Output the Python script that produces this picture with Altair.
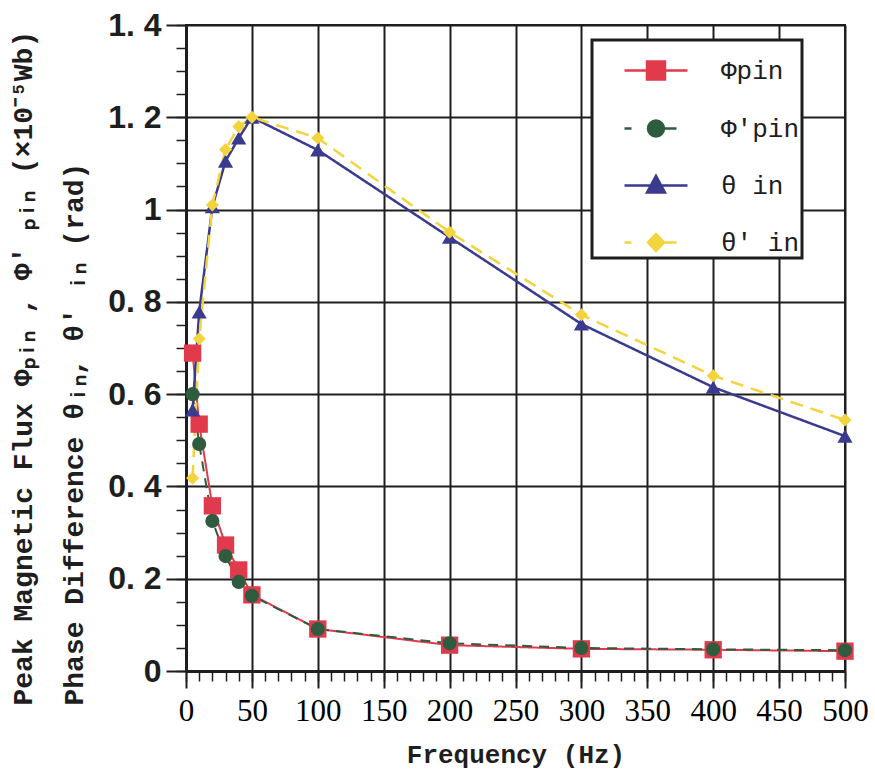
import altair as alt
import pandas as pd

# ---- data ----
freq = [5, 10, 20, 30, 40, 50, 100, 200, 300, 400, 500]
phi_pin = [0.689, 0.535, 0.358, 0.273, 0.219, 0.165, 0.091, 0.056, 0.048, 0.046, 0.043]
phi_p_pin = [0.600, 0.492, 0.325, 0.249, 0.193, 0.163, 0.091, 0.060, 0.050, 0.047, 0.045]
theta_in = [0.566, 0.778, 1.006, 1.105, 1.155, 1.200, 1.129, 0.940, 0.752, 0.615, 0.509]
theta_p_in = [0.418, 0.720, 1.010, 1.130, 1.180, 1.200, 1.155, 0.951, 0.772, 0.640, 0.544]

series_names = ["Φpin", "Φ'pin", "θ in", "θ' in"]
series_values = [phi_pin, phi_p_pin, theta_in, theta_p_in]
colors = ["#e03a4c", "#2f5c3e", "#3a3a8e", "#f3d43c"]
dashes = [[1, 0], [10, 7], [1, 0], [13, 8]]
stroke_widths = [2, 2, 2.5, 2.5]
marker_shapes = ["square", "circle", "triangle-up", "diamond"]
marker_sizes = [300, 200, 230, 170]

x_major = [0, 50, 100, 150, 200, 250, 300, 350, 400, 450, 500]
x_minor = list(range(0, 501, 10))
y_major = [0, 0.2, 0.4, 0.6, 0.8, 1.0, 1.2, 1.4]
y_minor = [round(i * 0.05, 2) for i in range(29)]

# legend symbols: line segment + marker (unit = half of the symbol box)
legend_paths = [
    "M0.074,0H2.407M0.907,-0.333H1.573V0.333H0.907Z",
    "M0.074,0H0.333M0.963,0H2.0M1.536,0A0.296,0.296 0 1,1 0.944,0A0.296,0.296 0 1,1 1.536,0Z",
    "M0.074,0H2.407M1.24,-0.36L1.573,0.26L0.907,0.26Z",
    "M0.074,0H0.333M0.963,0H2.0M1.24,-0.31L1.536,0L1.24,0.31L0.944,0Z",
]

rows = []
for name, vals in zip(series_names, series_values):
    for f, v in zip(freq, vals):
        rows.append({"freq": f, "value": v, "series": name})
df = pd.DataFrame(rows)

TXT = "#1e1e1e"
x_scale = alt.Scale(domain=[0, 500], nice=False, zero=False)
y_scale = alt.Scale(domain=[0, 1.4], nice=False)

base = alt.Chart(df)

x_minor_axis = alt.Axis(values=x_minor, labels=False, grid=False, tickSize=10, tickWidth=1.5,
                        tickColor=TXT, domain=False, title=None, orient="bottom")
y_minor_axis = alt.Axis(values=y_minor, labels=False, grid=False, tickSize=10, tickWidth=1.5,
                        tickColor=TXT, domain=False, title=None, orient="left")

x_major_axis = alt.Axis(
    values=x_major, grid=True, gridColor=TXT, gridWidth=2, tickSize=17, tickWidth=2, tickColor=TXT,
    domain=True, domainColor=TXT, domainWidth=3, labelFont="Liberation Sans Narrow", labelFontSize=31,
    labelFontWeight="normal", labelColor="#000", labelPadding=8, labelFlush=False,
    title="Frequency (Hz)", titleFont="Liberation Mono", titleFontSize=26, titleFontWeight="bold",
    titleColor=TXT, titleY=91, titleBaseline="alphabetic", orient="bottom",
)
y_major_axis = alt.Axis(
    values=y_major, grid=True, gridColor=TXT, gridWidth=2, tickSize=20, tickWidth=2, tickColor=TXT,
    domain=True, domainColor=TXT, domainWidth=3, labelFont="Liberation Sans", labelFontSize=32,
    labelFontWeight="bold", labelColor=TXT, labelPadding=5, labelFlush=False,
    labelExpr="replace(format(datum.value, '.1~f'), '.', '. ')",
    title=["Peak Magnetic Flux Φₚᵢₙ , Φ' ₚᵢₙ (×10⁻⁵Wb)", "Phase Difference θᵢₙ, θ' ᵢₙ (rad)"],
    titleFont="Liberation Mono", titleFontSize=28, titleFontWeight="bold", titleColor=TXT,
    titleAngle=270, titleAlign="left", titleBaseline="alphabetic", titleX=-155, titleY=680,
    titleLineHeight=51, orient="left",
)

line_layers = []
point_layers = []
for i, name in enumerate(series_names):
    sub = base.transform_filter(alt.datum.series == name)
    ln = sub.mark_line(color=colors[i], strokeDash=dashes[i], strokeWidth=stroke_widths[i]).encode(
        x=alt.X("freq:Q", scale=x_scale, axis=x_minor_axis if i == 0 else None),
        y=alt.Y("value:Q", scale=y_scale, axis=y_minor_axis if i == 0 else None),
        order=alt.Order("freq:Q"),
    )
    pt = sub.mark_point(shape=marker_shapes[i], filled=True, size=marker_sizes[i], opacity=1,
                        color=colors[i]).encode(
        x=alt.X("freq:Q", scale=x_scale, axis=x_major_axis if i == 0 else None),
        y=alt.Y("value:Q", scale=y_scale, axis=y_major_axis if i == 0 else None),
    )
    line_layers.append(ln)
    point_layers.append(pt)

# legend-only layer: no rows drawn, legend comes from the explicit scale domains
legend_layer = base.transform_filter("false").mark_point(
    filled=True, strokeWidth=2.5, opacity=1, fillOpacity=1, strokeOpacity=1
).encode(
    x=alt.X("freq:Q", scale=x_scale, axis=None),
    y=alt.Y("value:Q", scale=y_scale, axis=None),
    fill=alt.Fill("series:N", scale=alt.Scale(domain=series_names, range=colors), title=None,
                  legend=alt.Legend(orient="none", legendX=406, legendY=15, padding=2,
                                    strokeColor=TXT, fillColor="white", symbolOpacity=1,
                                    symbolSize=2916, symbolStrokeWidth=2.5, labelOffset=70,
                                    labelFont="Liberation Mono", labelFontSize=26, labelColor=TXT,
                                    rowPadding=15, labelLimit=300,
                                    labelExpr="datum.label + '\u00a0\u00a0'")),
    stroke=alt.Stroke("series:N", scale=alt.Scale(domain=series_names, range=colors), title=None),
    shape=alt.Shape("series:N", scale=alt.Scale(domain=series_names, range=legend_paths), title=None),
)

chart = alt.layer(*line_layers, *point_layers, legend_layer).resolve_axis(
    x="independent", y="independent"
).properties(
    width=659, height=646,
    autosize=alt.AutoSizeParams(type="none"),
    padding={"left": 186, "top": 25, "right": 30, "bottom": 103},
).configure_view(stroke=TXT, strokeWidth=2).configure_legend(strokeWidth=3)

chart.save("out.html", embed_options={"renderer": "svg", "actions": False})
